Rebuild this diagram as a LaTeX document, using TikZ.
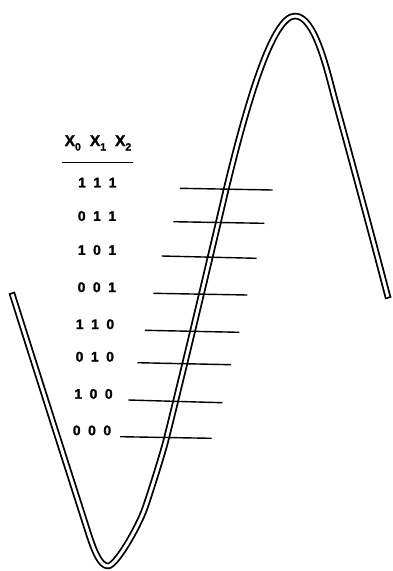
\documentclass[tikz,border=0pt]{standalone}
\usepackage{fontspec}
\setmainfont{Liberation Sans}[BoldFont={Liberation Sans Bold}]
\newfontfamily\heavyfont{Liberation Sans Bold}[FakeBold=1.6]
\newcommand\lowsub[1]{\raisebox{-4.5pt}{\fontsize{10.5}{10.5}\selectfont#1}}
\newcommand\bitrow[1]{{\spaceskip=7.6pt\relax #1}}
\begin{document}
\begin{tikzpicture}[x=1pt,y=-1pt,
  tubeout/.style={line width=6.6pt, black, line join=round},
  tubein/.style={line width=3.0pt, white, line join=round, shorten <=1.8pt, shorten >=1.8pt},
  tick/.style={line width=1.4pt},
  rule/.style={line width=1.4pt},
  bits/.style={font=\heavyfont\fontsize{13.8}{15}\selectfont, inner sep=0pt, anchor=base},
  head/.style={font=\heavyfont\fontsize{15.5}{17}\selectfont, inner sep=0pt, anchor=base west}]
\useasboundingbox (0,0) rectangle (392,571);
\fill[white] (0,0) rectangle (392,571);
% tube
\def\tubepath{(11.7,292.5) .. controls (40,382) and (72,482) .. (88,532)
  .. controls (94.1,551) and (100,566) .. (108,566)
  .. controls (116,566) and (138.4,526.9) .. (145,508)
  .. controls (149,496.7) and (163.1,452.5) .. (166.7,437.5)
  .. controls (186,360) and (206,275) .. (226,190)
  .. controls (247.6,100) and (273,16) .. (295,16)
  .. controls (315,16) and (327,70) .. (335,100)
  .. controls (352,162) and (372,236) .. (388.3,298.5)}
\draw[tubeout] \tubepath;
\draw[tubein] \tubepath;
% header
\node[head] (hdr) at (64.5,146) {X\lowsub{0}\hspace{9pt}X\lowsub{1}\hspace{9pt}X\lowsub{2}};
\coordinate (ulA) at (61.7,162.5);
\coordinate (ulB) at (132.7,162.5);
\draw[rule] (ulA) -- (ulB);
% labels
\node[bits] (r1) at (97.3,187.3) {\bitrow{1 1 1}};
\node[bits] (r2) at (97,220.8) {\bitrow{0 1 1}};
\node[bits] (r3) at (97,254.8) {\bitrow{1 0 1}};
\node[bits] (r4) at (96.8,292) {\bitrow{0 0 1}};
\node[bits] (r5) at (95,329) {\bitrow{1 1 0}};
\node[bits] (r6) at (94.8,361.5) {\bitrow{0 1 0}};
\node[bits] (r7) at (93.5,398.7) {\bitrow{1 0 0}};
\node[bits] (r8) at (92,435.2) {\bitrow{0 0 0}};
% tick lines
\coordinate (t1s) at (180,188.3);   \coordinate (t1e) at (272.7,190);
\coordinate (t2s) at (173.3,221.7); \coordinate (t2e) at (264.3,223.3);
\coordinate (t3s) at (161.7,256);   \coordinate (t3e) at (256.7,258.3);
\coordinate (t4s) at (153.3,293.3); \coordinate (t4e) at (247.3,295);
\coordinate (t5s) at (145,330.3);   \coordinate (t5e) at (239.3,332.3);
\coordinate (t6s) at (137.3,362.7); \coordinate (t6e) at (231,364.7);
\coordinate (t7s) at (128.3,400);   \coordinate (t7e) at (222.3,402.7);
\coordinate (t8s) at (120,436.7);   \coordinate (t8e) at (211.7,438.3);
\foreach \i in {1,...,8}{\draw[tick] (t\i s) -- (t\i e);}
\end{tikzpicture}
\end{document}
